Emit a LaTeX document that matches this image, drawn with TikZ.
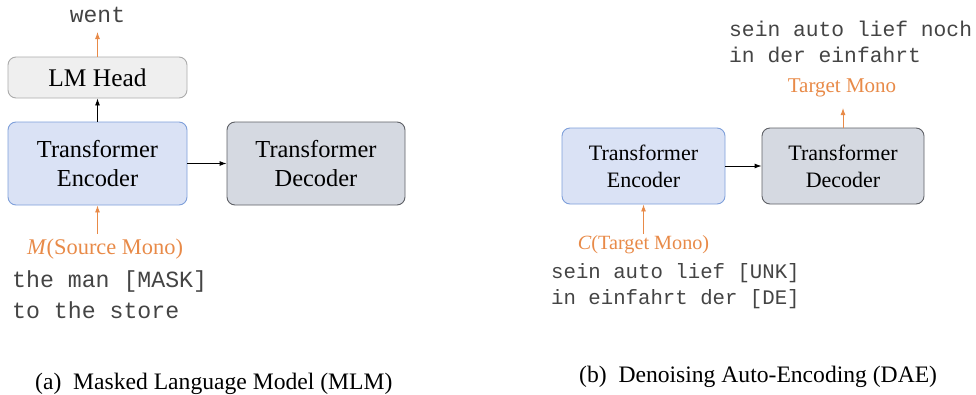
\documentclass[tikz,border=0pt]{standalone}
\usepackage{fontspec}
\setmainfont{Liberation Serif}
\setmonofont{Liberation Mono}
\usetikzlibrary{arrows.meta}
\definecolor{encfill}{HTML}{DAE2F5}
\definecolor{encdraw}{HTML}{7E9FDA}
\definecolor{decfill}{HTML}{D5D9E1}
\definecolor{decdraw}{HTML}{5E6066}
\definecolor{headfill}{HTML}{EFEFEF}
\definecolor{headdraw}{HTML}{ABABAB}
\definecolor{orng}{HTML}{E88A48}
\definecolor{monogray}{HTML}{444444}
\tikzset{
  box/.style={rounded corners=8pt, line width=0.9pt, inner sep=0pt, align=center},
  encbox/.style={box, fill=encfill, draw=encdraw},
  decbox/.style={box, fill=decfill, draw=decdraw},
  headbox/.style={box, fill=headfill, draw=headdraw},
  blk/.style={-{Latex[length=7pt,width=5pt]}, line width=0.9pt, black},
  org/.style={-{Latex[length=7pt,width=5pt]}, line width=0.9pt, orng},
  monotxt/.style={font=\ttfamily, text=monogray, inner sep=0pt, align=left},
  orgtxt/.style={text=orng, inner sep=0pt},
  captxt/.style={inner sep=0pt, font=\fontsize{23.6}{28}\selectfont}
}
\begin{document}
\begin{tikzpicture}[x=1pt,y=-1pt]
\useasboundingbox (0,0) rectangle (976,394);
% ---- (a) MLM ----
\node[headbox, minimum width=179pt, minimum height=41pt, font=\fontsize{25.4}{28}\selectfont] (head) at (97.5,77.5) {LM Head};
\node[encbox, minimum width=179pt, minimum height=83pt, font=\fontsize{24.4}{29}\selectfont] (encA) at (97.5,163.5) {Transformer\\Encoder};
\node[decbox, minimum width=178pt, minimum height=83pt, font=\fontsize{24.4}{29}\selectfont] (decA) at (316,163.5) {Transformer\\Decoder};
\node[monotxt, font=\fontsize{23}{27}\ttfamily] (went) at (97.5,15) {went};
\coordinate (wentarr) at (97.5,32);
\node[orgtxt, font=\fontsize{22.4}{26}\selectfont] (srcA) at (105,249) {\textit{M}(Source Mono)};
\coordinate (srcarr) at (97.5,234);
\node[monotxt, font=\fontsize{23.2}{31}\ttfamily, anchor=north west] (txtA) at (12,270) {the man [MASK]\\to the store};
\node[captxt, anchor=west] (capA) at (35,384) {(a)\ \ Masked Language Model (MLM)};
\draw[blk] (encA.north) -- (head.south);
\draw[blk] (encA.east) -- (decA.west);
\draw[org] (head.north) -- (wentarr);
\draw[org] (srcarr) -- (encA.south);
% ---- (b) DAE ----
\node[encbox, minimum width=163pt, minimum height=76pt, font=\fontsize{22}{27}\selectfont] (encB) at (643.5,166) {Transformer\\Encoder};
\node[decbox, minimum width=162pt, minimum height=76pt, font=\fontsize{22}{27}\selectfont] (decB) at (843,166) {Transformer\\Decoder};
\node[orgtxt, font=\fontsize{21}{24}\selectfont] (tgtB) at (842,88) {Target Mono};
\coordinate (tgtarr) at (843,108);
\node[monotxt, font=\fontsize{21.3}{26}\ttfamily, anchor=north west] (outB) at (729,21) {sein auto lief noch\\in der einfahrt};
\node[orgtxt, font=\fontsize{20.2}{24}\selectfont] (srcB) at (643.5,245) {\textit{C}(Target Mono)};
\coordinate (srcBarr) at (643.5,234);
\node[monotxt, font=\fontsize{20.7}{26}\ttfamily, anchor=north west] (inB) at (551,263) {sein auto lief [UNK]\\in einfahrt der [DE]};
\node[captxt, anchor=west] (capB) at (579,377) {(b)\ \ Denoising Auto-Encoding (DAE)};
\draw[blk] (encB.east) -- (decB.west);
\draw[org] (decB.north) -- (tgtarr);
\draw[org] (srcBarr) -- (encB.south);
\end{tikzpicture}
\end{document}
